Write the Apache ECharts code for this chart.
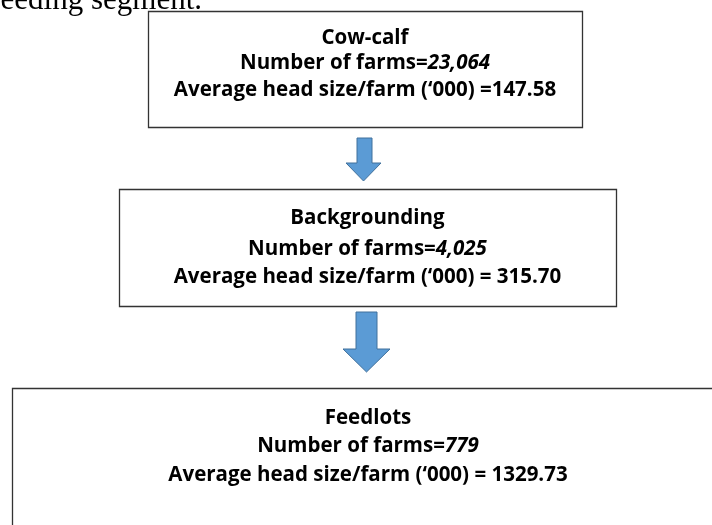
<!DOCTYPE html>
<html>
<head>
<meta charset="utf-8">
<script src="https://cdn.jsdelivr.net/npm/echarts@6/dist/echarts.min.js"></script>
<style>
  html, body { margin: 0; background: #fff; }
  #main { width: 712px; height: 525px; }
</style>
</head>
<body>
<div id="main"></div>
<script>
// 阶段名称
const stages = ['Cow-calf', 'Backgrounding', 'Feedlots'];
// 农场数量
const farmCounts = ['23,064', '4,025', '779'];
// 平均头数（千）
const headSizes = ['=147.58', '= 315.70', '= 1329.73'];
const headLabel = 'Average head size/farm (\u2018000) ';
const farmLabel = 'Number of farms=';
const leadText = 'eeding segment.';

const FONT = '"Open Sans", "Liberation Sans", sans-serif';

// 布局：每个方框及其文字行
const boxes = [
  { x: 148, y: 11, w: 434, h: 116, cx: 365, lines: [38.5, 63.5, 90] },
  { x: 119, y: 189, w: 497, h: 117, cx: 367.5, lines: [218.5, 249, 277] },
  { x: 12, y: 388, w: 740, h: 180, cx: 368, lines: [418, 446, 475] }
];
// 箭头：主干左右、顶部、箭头起点、箭头左右、尖端
const arrows = [
  { sl: 357, sr: 372, top: 138, hy: 163, hl: 346, hr: 381, tip: 181 },
  { sl: 356, sr: 377, top: 312, hy: 349, hl: 343, hr: 390, tip: 372 }
];

/**
 * 按目标宽度计算字号
 */
const fitSize = (text, target) => {
  const ctx = document.createElement('canvas').getContext('2d');
  ctx.font = 'bold 100px ' + FONT;
  return 100 * target / ctx.measureText(text).width;
};
const fontSize = fitSize(headLabel + headSizes[1], 388);

const elements = [];

// 顶部被截断的正文
elements.push({
  type: 'text',
  style: {
    text: leadText, x: 202, y: 0.5,
    font: '31px "Liberation Serif", serif',
    fill: '#000', align: 'right', verticalAlign: 'middle'
  }
});

boxes.forEach((b, i) => {
  elements.push({
    type: 'rect',
    shape: { x: b.x + 0.5, y: b.y + 0.5, width: b.w, height: b.h },
    style: { fill: '#fff', stroke: '#333', lineWidth: 1.3 }
  });
  const base = { fontFamily: FONT, fontWeight: 'bold', fontSize: fontSize, fill: '#000' };
  elements.push({
    type: 'text',
    style: Object.assign({ text: stages[i], x: b.cx, y: b.lines[0], align: 'center', verticalAlign: 'middle' }, base)
  });
  elements.push({
    type: 'text',
    style: Object.assign({
      text: '{b|' + farmLabel + '}{i|' + farmCounts[i] + '}',
      x: b.cx, y: b.lines[1], align: 'center', verticalAlign: 'middle',
      rich: {
        b: base,
        i: Object.assign({ fontStyle: 'italic' }, base)
      }
    }, base)
  });
  elements.push({
    type: 'text',
    style: Object.assign({ text: headLabel + headSizes[i], x: b.cx, y: b.lines[2], align: 'center', verticalAlign: 'middle' }, base)
  });
});

arrows.forEach(a => {
  elements.push({
    type: 'polygon',
    shape: {
      points: [
        [a.sl, a.top], [a.sr, a.top], [a.sr, a.hy], [a.hr, a.hy],
        [(a.hl + a.hr) / 2, a.tip], [a.hl, a.hy], [a.sl, a.hy]
      ]
    },
    style: { fill: '#5b9bd5', stroke: '#41719c', lineWidth: 1 }
  });
});

const chart = echarts.init(document.getElementById('main'), null, { renderer: 'canvas' });
chart.setOption({
  backgroundColor: '#fff',
  animation: false,
  graphic: { elements: elements }
});
</script>
</body>
</html>
